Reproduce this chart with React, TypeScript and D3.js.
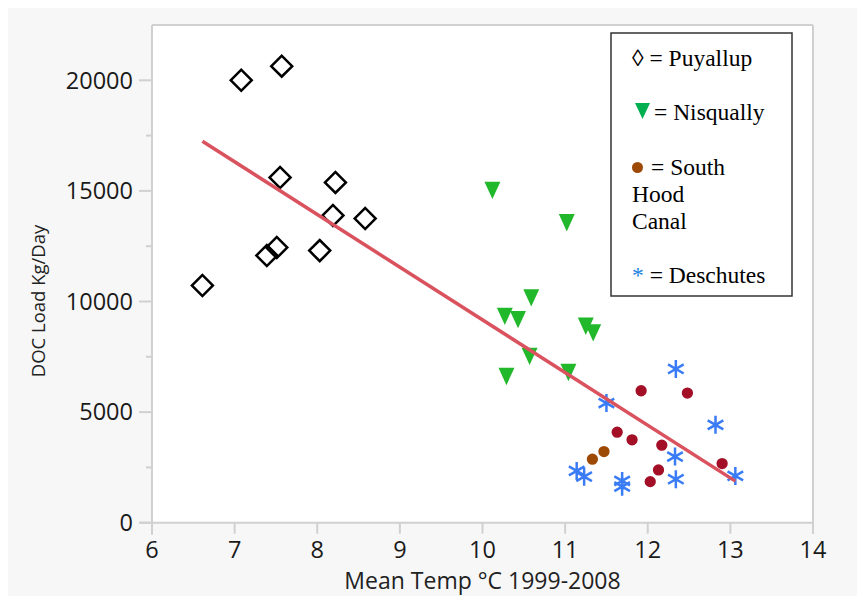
import React from "react";
import * as d3 from "d3";

// Puyallup (diamonds)
const puyallupTemp = [6.61, 7.08, 7.57, 7.55, 7.39, 7.51, 8.03, 8.19, 8.22, 8.58];
const puyallupDoc = [10720, 20000, 20640, 15610, 12080, 12440, 12300, 13890, 15385, 13755];

// Nisqually (triangles)
const nisquallyTemp = [10.12, 11.02, 10.59, 10.27, 10.43, 11.25, 11.34, 10.57, 11.04, 10.29];
const nisquallyDoc = [15020, 13560, 10160, 9330, 9180, 8880, 8580, 7520, 6790, 6610];

// South Hood Canal (brown circles)
const southHoodTemp = [11.33, 11.47];
const southHoodDoc = [2870, 3216];

// Hood Canal, red circles (not in the legend)
const hoodRedTemp = [11.92, 12.48, 11.63, 11.81, 12.17, 12.13, 12.03, 12.9];
const hoodRedDoc = [5965, 5860, 4094, 3745, 3505, 2387, 1857, 2672];

// Deschutes (asterisks)
const deschutesTemp = [12.34, 11.5, 12.82, 12.33, 11.14, 11.23, 11.69, 11.69, 12.34, 13.06];
const deschutesDoc = [6950, 5408, 4425, 2990, 2341, 2083, 1889, 1630, 1966, 2115];

// Ticks
const xTicks = [6, 7, 8, 9, 10, 11, 12, 13, 14];
const yTicks = [0, 5000, 10000, 15000, 20000];
const yMinorTicks = [2500, 7500, 12500, 17500];

const W = 857;
const H = 596;
const plot = { left: 152, right: 813, top: 25, bottom: 522.7 };

const zip = (xs: number[], ys: number[]) => xs.map((v, i) => [v, ys[i]] as [number, number]);

// Triángulo invertido (custom d3 symbol)
const triangleDown = {
  draw(ctx: any, size: number) {
    const h = Math.sqrt(size);
    const w = h * 0.92;
    ctx.moveTo(-w / 2, -h / 2);
    ctx.lineTo(w / 2, -h / 2);
    ctx.lineTo(0, h / 2);
    ctx.closePath();
  },
};

const App: React.FC = () => {
  const x = d3.scaleLinear().domain([6, 14]).range([plot.left, plot.right]);
  const y = d3.scaleLinear().domain([0, 22500]).range([plot.bottom, plot.top]);

  const puyallup = zip(puyallupTemp, puyallupDoc);
  const nisqually = zip(nisquallyTemp, nisquallyDoc);
  const southHood = zip(southHoodTemp, southHoodDoc);
  const hoodRed = zip(hoodRedTemp, hoodRedDoc);
  const deschutes = zip(deschutesTemp, deschutesDoc);

  // Least squares fit over all points
  const all = [...puyallup, ...nisqually, ...southHood, ...hoodRed, ...deschutes];
  const mx = d3.mean(all, (d) => d[0]) ?? 0;
  const my = d3.mean(all, (d) => d[1]) ?? 0;
  const sxy = d3.sum(all, (d) => (d[0] - mx) * (d[1] - my));
  const sxx = d3.sum(all, (d) => (d[0] - mx) ** 2);
  const slope = sxy / sxx;
  const [x0, x1] = d3.extent(all, (d) => d[0]) as [number, number];
  const fit: [number, number][] = [
    [x0, my + slope * (x0 - mx)],
    [x1, my + slope * (x1 - mx)],
  ];
  const line = d3
    .line<[number, number]>()
    .x((d) => x(d[0]))
    .y((d) => y(d[1]));

  const diamond = d3.symbol().type(d3.symbolSquare).size(220)()!;
  const tri = d3.symbol().type(triangleDown as any).size(300)()!;
  const circle = d3.symbol().type(d3.symbolCircle).size(100)()!;
  const asterisk = d3.symbol().type(d3.symbolAsterisk).size(230)()!;

  const tickFont = "'Open Sans', sans-serif";
  const serif = "'Liberation Serif', 'Times New Roman', serif";

  return (
    <svg
      width={W}
      height={H}
      style={{ position: "absolute", left: 0, top: 0 }}
    >
      {/* Fondo */}
      <rect x={0} y={0} width={W} height={H} fill="#ffffff" />
      <rect x={8} y={8} width={W - 8} height={H - 8} fill="#f7f7f7" />
      <rect
        x={plot.left}
        y={plot.top}
        width={plot.right - plot.left}
        height={plot.bottom - plot.top}
        fill="#ffffff"
      />

      {/* Marco */}
      <g stroke="#d0d0d0" strokeWidth={2} fill="none">
        <line x1={plot.left} x2={plot.right} y1={plot.top} y2={plot.top} />
        <line x1={plot.right} x2={plot.right} y1={plot.top} y2={plot.bottom + 11} />
        <line x1={plot.left} x2={plot.left} y1={plot.top} y2={plot.bottom + 12} />
        <line x1={plot.left - 12} x2={plot.right} y1={plot.bottom} y2={plot.bottom} />
        {yTicks.map((t) => (
          <line key={t} x1={plot.left - 13} x2={plot.left} y1={y(t)} y2={y(t)} />
        ))}
        {yMinorTicks.map((t) => (
          <line key={t} x1={plot.left - 6} x2={plot.left} y1={y(t)} y2={y(t)} />
        ))}
        {xTicks.map((t) => (
          <line key={t} x1={x(t)} x2={x(t)} y1={plot.bottom} y2={plot.bottom + 11} />
        ))}
      </g>

      {/* Etiquetas de ejes */}
      <g fontFamily={tickFont} fontSize={23.5} fill="#1a1a1a">
        {yTicks.map((t) => (
          <text key={t} x={133} y={y(t)} dy="0.35em" textAnchor="end">
            {t}
          </text>
        ))}
        {xTicks.map((t) => (
          <text key={t} x={x(t)} y={558} textAnchor="middle">
            {t}
          </text>
        ))}
        <text
          x={(plot.left + plot.right) / 2}
          y={589}
          textAnchor="middle"
          fontSize={23}
          fill="#222"
        >
          Mean Temp °C 1999-2008
        </text>
        <text
          transform="translate(45,301) rotate(-90)"
          textAnchor="middle"
          fontSize={18.5}
          fill="#222"
        >
          DOC Load Kg/Day
        </text>
      </g>

      {/* Puntos */}
      {puyallup.map((d, i) => (
        <path
          key={`p${i}`}
          d={diamond}
          transform={`translate(${x(d[0])},${y(d[1])}) rotate(45)`}
          fill="none"
          stroke="#000"
          strokeWidth={2.5}
        />
      ))}
      {nisqually.map((d, i) => (
        <path key={`n${i}`} d={tri} transform={`translate(${x(d[0])},${y(d[1])})`} fill="#22b82b" />
      ))}
      {hoodRed.map((d, i) => (
        <path key={`r${i}`} d={circle} transform={`translate(${x(d[0])},${y(d[1])})`} fill="#a30f26" />
      ))}
      {southHood.map((d, i) => (
        <path key={`s${i}`} d={circle} transform={`translate(${x(d[0])},${y(d[1])})`} fill="#9c4a06" />
      ))}
      {deschutes.map((d, i) => (
        <path
          key={`d${i}`}
          d={asterisk}
          transform={`translate(${x(d[0])},${y(d[1])})`}
          fill="none"
          stroke="#3a7cf5"
          strokeWidth={2.5}
        />
      ))}

      {/* Recta de regresión */}
      <path d={line(fit) ?? ""} fill="none" stroke="#d9525e" strokeWidth={3.5} />

      {/* Leyenda */}
      <rect x={611} y={33} width={181} height={263} fill="#fff" stroke="#333" strokeWidth={1.5} />
      <g fontFamily={serif} fontSize={23.5} fill="#000">
        <text x={632} y={66}>◊ = Puyallup</text>
        <path d="M635,103 L650,103 L642.5,119 Z" fill="#00b050" />
        <text x={654} y={120}>= Nisqually</text>
        <circle cx={637.5} cy={167.5} r={5.5} fill="#9c4a06" />
        <text x={651} y={175}>= South</text>
        <text x={632} y={202}>Hood</text>
        <text x={632} y={229}>Canal</text>
        <text x={632} y={283}>
          <tspan fill="#2080e0">*</tspan> = Deschutes
        </text>
      </g>
    </svg>
  );
};

export default App;
